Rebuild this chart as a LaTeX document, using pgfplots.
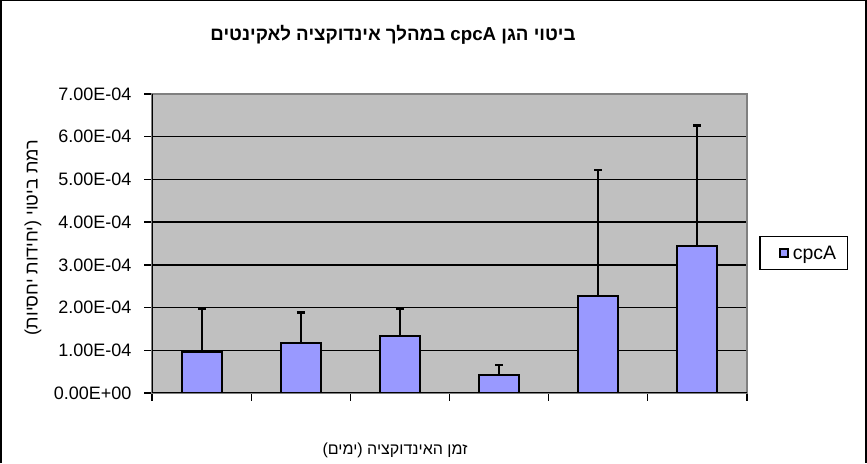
\documentclass[border=0pt]{standalone}
\usepackage{fontspec}
\setmainfont{Liberation Sans}
\newfontfamily\hebfont[Script=Hebrew]{Liberation Sans}
\TeXXeTstate=1
\usepackage{pgfplots}
\pgfplotsset{compat=1.18}
\definecolor{plotbg}{HTML}{C0C0C0}
\definecolor{barfill}{HTML}{9999FF}
\definecolor{frameg}{HTML}{808080}
\begin{document}
\begin{tikzpicture}
\useasboundingbox (0,0) rectangle (867pt,463pt);
\fill[white] (0,0) rectangle (867pt,463pt);
\draw[black,line width=2pt] (1pt,0) -- (1pt,462.5pt) -- (866pt,462.5pt) -- (866pt,0);
\begin{axis}[
  at={(152pt,70pt)}, anchor=south west,
  scale only axis, width=595pt, height=299pt,
  ybar, bar width=40pt,
  xmin=-0.5, xmax=5.5, ymin=0, ymax=7e-4,
  xtick={-0.5,0.5,1.5,2.5,3.5,4.5,5.5}, xticklabels={},
  ytick={0,1e-4,2e-4,3e-4,4e-4,5e-4,6e-4,7e-4},
  yticklabels={0.00E+00,1.00E-04,2.00E-04,3.00E-04,4.00E-04,5.00E-04,6.00E-04,7.00E-04},
  scaled y ticks=false,
  tick align=outside, major tick length=8pt,
  tick style={black, line width=1.3pt},
  xtick pos=bottom, ytick pos=left,
  ymajorgrids, grid style={black, line width=1.3pt},
  axis background/.style={fill=plotbg},
  axis line style={draw=frameg, line width=2pt},
  ticklabel style={font=\fontsize{18}{20}\selectfont},
  yticklabel style={xshift=-9pt},
  legend style={at={(1.095,0.468)}, anchor=center, draw=black, line width=1.3pt,
    font=\fontsize{19.5}{22}\selectfont, inner xsep=9pt, inner ysep=7pt},
  legend image code/.code={\path (-10pt,0pt); \draw[fill=barfill,draw=black,line width=1.8pt] (0pt,-4pt) rectangle (8pt,4pt);},
]
\addplot[fill=barfill, draw=black, line width=2pt,
  error bars/.cd, y dir=plus, y explicit,
  error bar style={black, line width=2pt},
  error mark options={rotate=90, mark size=4pt, line width=2.5pt, black}]
  coordinates {
  (0,0.97e-4) +- (0,1.01e-4)
  (1,1.18e-4) +- (0,0.70e-4)
  (2,1.34e-4) +- (0,0.64e-4)
  (3,0.43e-4) +- (0,0.23e-4)
  (4,2.27e-4) +- (0,2.95e-4)
  (5,3.43e-4) +- (0,2.83e-4)
  };
\addlegendentry{\hspace{2pt}cpcA}
\draw[black, line width=2pt] (rel axis cs:0,1) -- (rel axis cs:0,0) -- (rel axis cs:1,0);
\end{axis}
\node[font=\hebfont\bfseries\fontsize{18.7}{22}\selectfont] at (393pt,428pt)
  {\beginR ביטוי הגן \beginL cpcA\endL{} במהלך אינדוקציה לאקינטים\endR};
\node[font=\hebfont\fontsize{16}{19}\selectfont] at (395pt,13pt)
  {\beginR זמן האינדוקציה (ימים)\endR};
\node[font=\hebfont\fontsize{18}{21}\selectfont, rotate=90] at (33pt,225.5pt)
  {\beginR רמת ביטוי (יחידות יחסיות)\endR};
\end{tikzpicture}
\end{document}
